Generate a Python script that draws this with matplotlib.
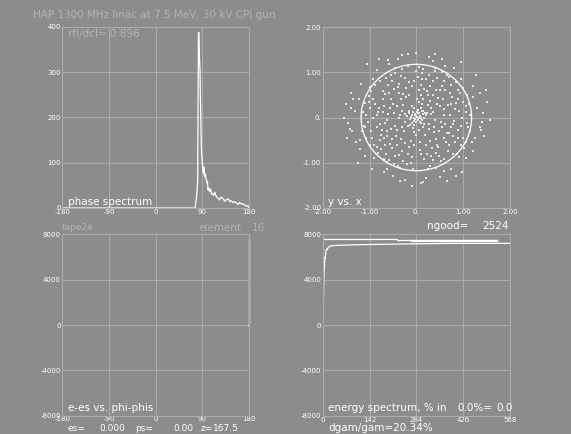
import numpy as np
import matplotlib
matplotlib.use("Agg")
import matplotlib.pyplot as plt
from matplotlib.patches import Circle

plt.rcParams["axes.unicode_minus"] = False

W, H = 571, 434
BG = "#8c8c8c"
GRID = "#ababab"
DIM = "#b4b4b4"

# ---- daten ----
title = "HAP 1300 MHz linac at 7.5 MeV, 30 kV CPI gun"

# phase spectrum
phase_deg = [-180, 76, 79, 81, 81.7, 82.5, 83.5, 84.5, 85.5, 86.2, 86.8, 87.5, 88, 89, 90,
             91, 92, 93, 94, 95, 96, 97, 98, 99, 100, 101, 102, 104, 106, 108, 110, 112,
             114, 117, 120, 123, 126, 130, 133, 136, 140, 143, 146, 149, 152, 156, 159,
             162, 165, 169, 172, 175, 178, 180]
phase_counts = [0, 0, 25, 60, 200, 387, 387, 330, 304, 250, 216, 170, 135, 115, 99,
                85, 77, 90, 72, 69, 75, 64, 62, 55, 58, 40, 45, 36, 42, 30, 32, 28,
                35, 25, 22, 18, 24, 21, 15, 18, 20, 14, 16, 12, 14, 11, 8,
                12, 9, 9, 6, 4, 5, 0]

xy_x = [0.02, -0.03, 0.05, 0.00, -0.06, 0.08, 0.03, -0.02, 0.10, -0.09, 0.04, -0.05, 0.12, -0.11, 0.01,
        0.06, -0.13, 0.14, -0.07, 0.09, 0.00, -0.02, 0.07, -0.15, 0.16, 0.11, -0.10, 0.03, -0.04, 0.18,
        0.35, -0.42, 0.18, -0.27, 0.55, -0.61, 0.22, -0.15, 0.47, -0.52, 0.71, -0.78, 0.08, -0.05, 0.63,
        -0.68, 0.85, -0.89, 0.31, -0.36, 0.95, -0.97, 0.12, -0.20, 0.74, -0.75, 1.05, -1.08, 0.40, -0.45,
        0.52, -0.58, 1.00, -1.02, 0.88, -0.85, 0.25, -0.30, 0.14, -0.18, 0.40, -0.38, 0.02, -0.01, 0.29,
        -0.33, 0.37, -0.41, 0.58, -0.56, 0.17, -0.22, 0.20, -0.25, 0.66, -0.63, 0.50, -0.47, 0.46, -0.52,
        0.80, -0.82, 0.03, -0.10, 0.77, -0.72, 0.79, -0.70, 0.35, -0.38, 0.41, -0.30, 0.92, -0.93, 0.17,
        -0.60, 0.60, 0.67, -0.65, 1.10, -1.12, 0.06, -0.08, 0.93, -0.96, 0.95, -0.90, 0.55, -0.30, 0.30,
        -0.48, 1.12, -1.10, 1.05,
        0.12, -0.09, 0.28, -0.24, 0.21, -0.19, 0.06, -0.04, 0.32, -0.28, 0.26, -0.31, 0.45, -0.48, 0.10,
        -0.12, 0.52, -0.44, 0.35, -0.36, 0.43, -0.15, 0.68, -0.70, 0.62, -0.66, 0.30, 0.09, -0.09, 0.33,
        0.08, -0.57, 0.57, -0.55, 0.74, -0.74, 0.88, -0.85, 0.55, -0.52, 0.20, -0.25, 0.22, -0.45, 0.83,
        -0.78, 1.00, -1.00, 0.98, -1.03, 0.70, -0.78, 0.78, -0.82, 0.00, 0.45, -0.55, 0.48, -0.12, 1.08,
        -1.08, 0.15, -0.18, 0.25, -0.35, 1.14, -1.15, 1.15, -1.16, 0.85, -0.88, 0.86, -0.70,
        1.30, -1.32, 1.25, -1.28, 0.35, -0.40, 0.20, -0.25, 1.40, -1.45, 1.20, -1.18, 1.05, -1.10, 0.80,
        -0.85, 0.75, -0.70, 1.50, -1.50, 0.00, -0.10, 1.35, -1.38, 0.55, -0.60, 0.50, -0.50, 1.45, -1.40,
        1.28, -1.25, 0.95, -1.05, 0.98, -0.95, 1.58, -1.55, 0.10, 0.40, -0.30, 1.22, -1.20, 1.35, -1.35,
        0.65,
        0.15, -0.22, 0.38, -0.45, 0.60, -0.62, 0.05, -0.05, 0.42, -0.40, 0.45, -0.42, 0.72, -0.72, 0.70,
        -0.68, 0.90, -0.92, 0.88, -0.95, 0.28, -0.32, 0.35, -0.28, 0.65, -0.65, 0.60, -0.62, 1.05, -1.02,
        1.08, -1.10, 0.15, -0.16, 0.17, -0.14, 0.22, -0.24, 0.09, -0.08, 0.50, -0.50, 0.48, -0.55, 0.25,
        -0.28, 0.30, -0.32, 0.82, -0.80, 0.78, -0.83, 0.12, -0.15, 0.10, -0.18, 0.62, -0.58, 0.58, -0.62,
        1.00, -0.98, 1.02, -1.00, 0.40, -0.45, 0.42, -0.40, 0.75, -0.72, 0.70, -0.75, 0.32, -0.35, 0.05,
        -0.06, 0.95, -0.92, 0.92, -0.90, 1.20, -1.22, 1.18, -1.20, 0.62, -0.58, 0.60, -0.62, 1.42, -1.40,
        1.38, -1.42, 0.28, -0.18, 0.15, -0.35, 1.48, -1.48, 0.85, -0.80]
xy_y = [0.01, 0.05, -0.02, 0.03, -0.01, 0.04, -0.06, -0.04, 0.00, 0.06, 0.09, -0.08, -0.05, 0.02, 0.12,
        0.11, -0.04, 0.07, 0.13, -0.12, -0.10, 0.08, -0.09, 0.09, -0.01, 0.14, -0.13, 0.17, -0.16, 0.10,
        0.12, 0.25, -0.38, -0.31, -0.20, 0.08, 0.58, 0.49, 0.44, -0.47, 0.05, -0.15, -0.72, 0.81, -0.55,
        0.52, 0.33, 0.29, -0.86, -0.83, -0.18, -0.31, 0.98, -1.02, 0.71, -0.70, 0.12, 0.05, 1.02, 0.99,
        -0.96, -0.95, -0.45, 0.47, 0.60, -0.66, 0.27, 0.14, -0.22, -0.19, -0.05, -0.02, 0.42, -0.39, 0.36,
        0.40, -0.32, -0.28, 0.18, 0.22, 0.64, 0.66, -0.61, -0.57, -0.34, -0.30, 0.60, 0.63, -0.66, -0.68,
        -0.08, 0.12, 0.90, -0.88, 0.45, 0.40, -0.40, -0.45, 0.80, 0.74, -0.79, -0.75, 0.15, -0.02, -0.93,
        0.72, 0.80, -0.75, -0.82, -0.22, -0.18, 1.12, -1.14, 0.55, 0.58, -0.62, -0.60, 1.00, 1.07, -1.08,
        -1.04, 0.30, 0.32, -0.55,
        0.30, 0.25, -0.14, -0.09, 0.05, 0.03, -0.27, 0.22, 0.21, 0.28, -0.26, -0.22, 0.30, 0.10, 0.50,
        -0.52, -0.10, -0.40, 0.50, 0.55, -0.48, -0.65, 0.28, 0.25, -0.15, -0.12, 0.70, 0.73, 0.70, -0.68,
        -0.55, -0.58, 0.42, 0.42, -0.22, -0.28, -0.28, 0.05, 0.70, 0.80, 0.85, 0.88, -0.80, -0.85, -0.55,
        -0.50, 0.35, 0.20, 0.00, -0.10, 0.90, 0.80, -0.80, -0.78, 1.02, 0.88, 0.95, -0.85, -1.00, 0.50,
        -0.45, 1.08, 1.15, -1.15, -1.12, 0.05, 0.12, -0.30, -0.30, 0.78, 0.72, -0.80, -0.92,
        0.20, 0.15, -0.45, -0.55, 1.25, 1.30, -1.35, -1.38, -0.10, -0.12, 0.70, 0.75, -0.90, -0.85, 1.10,
        1.05, -1.15, -1.20, 0.35, 0.30, 1.43, -1.52, 0.55, -0.30, 1.30, 1.28, -1.32, -1.30, -0.40, 0.55,
        0.95, -1.00, 1.22, 1.18, -1.20, -1.15, -0.05, 0.00, -1.45, 1.40, 1.38, -0.75, -0.70, -0.20, 0.40,
        -1.40,
        0.42, 0.45, -0.20, -0.18, 0.05, -0.05, 0.62, -0.62, 0.62, 0.68, -0.60, -0.62, 0.55, 0.58, -0.60,
        -0.62, 0.42, 0.40, -0.45, -0.45, 0.95, 0.92, -0.95, -0.96, 0.95, 0.88, -0.92, -0.98, 0.25, 0.35,
        -0.12, -0.22, 0.15, 0.14, -0.15, -0.17, 0.10, 0.08, 0.21, -0.23, 0.25, 0.30, -0.30, -0.25, 0.50,
        0.52, -0.52, -0.48, 0.18, 0.22, -0.15, -0.20, 0.85, 0.78, -0.82, -0.80, 0.62, 0.55, -0.45, -0.42,
        0.65, 0.68, -0.68, -0.62, 1.10, 1.10, -1.12, -1.08, 0.30, 0.12, -0.35, -0.38, 0.08, 0.05, 0.35,
        -0.32, 0.85, 0.85, -0.88, -0.90, 0.45, 0.42, -0.55, -0.50, 1.15, 1.18, -1.18, -1.15, 0.10, 0.20,
        -0.28, -0.25, 1.35, 1.40, -1.42, -1.40, 0.60, -0.45, -1.30, 1.30]
circle_r = 1.18
ngood = 2524

# e-es vs phi-phis
dphi = [178, 179.6, 179.6, 179.6]
de = [0, 0, 3000, 7500]

# energy spectrum
es_x = [0, 0.5, 1, 1.5, 2, 2.5, 3, 3.5, 4, 5, 6, 7, 8, 9, 10, 12, 14, 17, 22, 30, 45, 80, 143, 250, 400, 568]
es_y = [-8000, -5000, -2000, 200, 1500, 2600, 3400, 4000, 4600, 5000, 5600, 6000, 5900, 6300, 6550,
        6700, 6650, 6850, 6950, 7000, 7030, 7060, 7100, 7150, 7200, 7200]
es2_x = [0, 224, 224, 530]
es2_y = [7560, 7560, 7480, 7480]
es3_x = [270, 530]
es3_y = [7380, 7380]

# ---- zeichnen ----
fig = plt.figure(figsize=(W / 100, H / 100), dpi=100, facecolor=BG)


def box(l, t, r, b):
    ax = fig.add_axes([l / W, 1 - b / H, (r - l) / W, (b - t) / H])
    ax.set_facecolor(BG)
    for s in ax.spines.values():
        s.set_color(GRID)
        s.set_linewidth(0.8)
    ax.tick_params(length=0, labelsize=5, colors="white", pad=1)
    ax.grid(True, color=GRID, lw=0.8)
    ax.set_axisbelow(True)
    return ax


def ftext(x, y, s, **kw):
    kw.setdefault("color", "white")
    kw.setdefault("fontsize", 7.5)
    fig.text(x / W, 1 - y / H, s, va="center", **kw)


ax1 = box(62.3, 26.7, 249, 208)
ax1.plot(phase_deg, phase_counts, color="white", lw=0.9)
ax1.set_xlim(-180, 180)
ax1.set_ylim(0, 400)
ax1.set_xticks([-180, -90, 0, 90, 180])
ax1.set_yticks([0, 100, 200, 300, 400])

ax2 = box(322.7, 27.3, 510, 207.7)
ax2.scatter(xy_x, xy_y, s=1.2, marker="s", color="#e6e6e6", linewidths=0)
ax2.add_patch(Circle((0, 0), circle_r, fill=False, ec="white", lw=0.9))
ax2.set_xlim(-2, 2)
ax2.set_ylim(-2, 2)
ax2.set_xticks([-2, -1, 0, 1, 2])
ax2.set_xticklabels(["-2.00", "-1.00", "0.", "1.00", "2.00"])
ax2.set_yticks([-2, -1, 0, 1, 2])
ax2.set_yticklabels(["-2.00", "-1.00", "0.", "1.00", "2.00"])

ax3 = box(62.3, 234.3, 249, 415.7)
ax3.plot(dphi, de, color="white", lw=1.0, clip_on=False)
ax3.set_xlim(-180, 180)
ax3.set_ylim(-8000, 8000)
ax3.set_xticks([-180, -90, 0, 90, 180])
ax3.set_yticks([-8000, -4000, 0, 4000, 8000])
ax3.tick_params(axis="x", pad=0)

ax4 = box(322.7, 234.3, 510, 415.7)
ax4.plot(es_x, es_y, color="white", lw=0.9)
ax4.plot(es2_x, es2_y, color="white", lw=0.9)
ax4.plot(es3_x, es3_y, color="white", lw=1.6)
ax4.set_xlim(0, 568)
ax4.set_ylim(-8000, 8000)
ax4.set_xticks([0, 142, 284, 426, 568])
ax4.set_yticks([-8000, -4000, 0, 4000, 8000])

# beschriftungen
ftext(33, 15, title, color=DIM)
ftext(68, 34, "rfI/dcI= 0.896", color=DIM)
ftext(68, 202, "phase spectrum")
ftext(62, 228, "tape2a", color=DIM, fontsize=6.5)
ftext(198, 228, "element", color=DIM)
ftext(252, 228, "16", color=DIM)
ftext(328, 202, "y vs. x")
ftext(427, 226, "ngood=")
ftext(509, 226, str(ngood), ha="right")
ftext(68, 408, "e-es vs. phi-phis")
ftext(67, 428.5, "es=", fontsize=6.5)
ftext(99, 428.5, "0.000", fontsize=6.5)
ftext(135, 428.5, "ps=", fontsize=6.5)
ftext(173, 428.5, "0.00", fontsize=6.5)
ftext(201, 428.5, "z=", fontsize=6.5)
ftext(213, 428.5, "167.5", fontsize=6.5)
ftext(328, 408, "energy spectrum, % in")
ftext(457, 408, "0.0%=")
ftext(513, 408, "0.0", ha="right")
ftext(328, 428, "dgam/gam=20.34%")

fig.savefig("out.png", dpi=100, facecolor=BG)
